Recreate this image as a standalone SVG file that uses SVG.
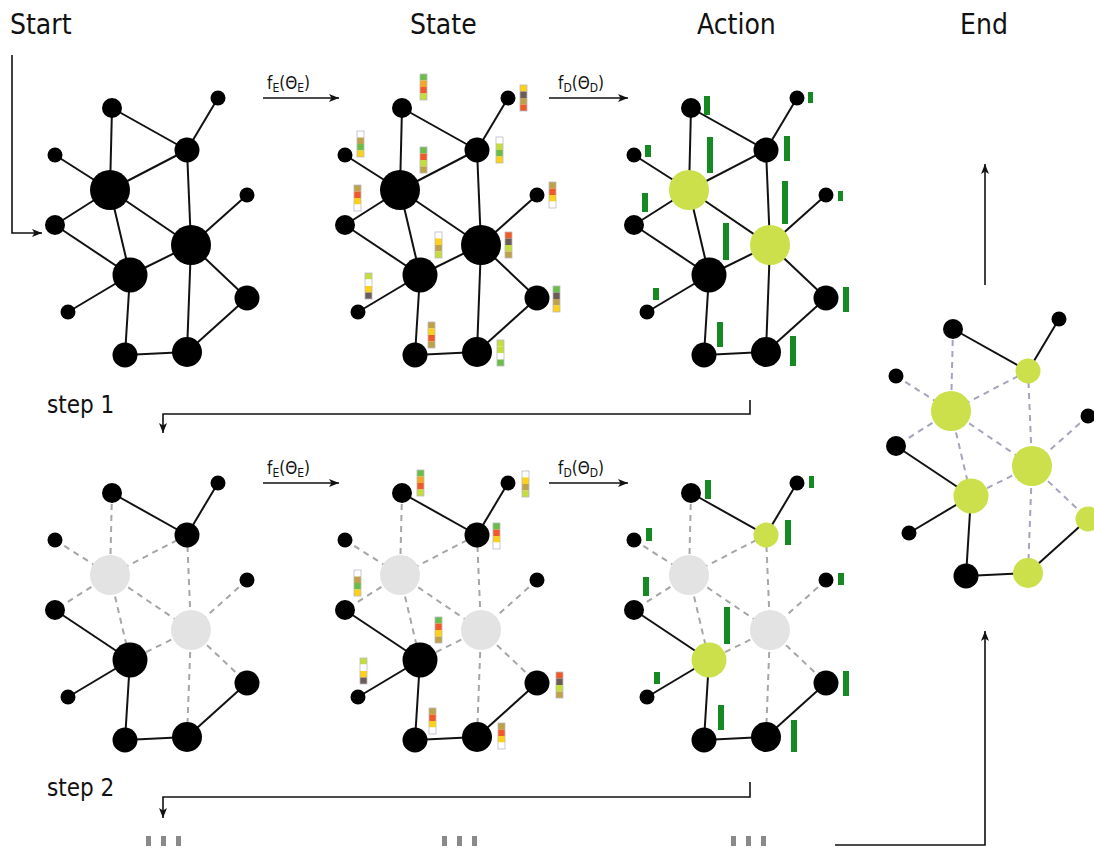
<svg xmlns="http://www.w3.org/2000/svg" xmlns:xlink="http://www.w3.org/1999/xlink" width="1094" height="848" viewBox="0 0 1094 848">
  <style>
    .title { font-family: "DejaVu Sans Condensed", "DejaVu Sans", sans-serif; font-stretch: condensed; font-size: 28px; fill: #111; }
    .step { font-family: "DejaVu Sans Condensed", "DejaVu Sans", sans-serif; font-stretch: condensed; font-size: 24px; fill: #111; }
    .fn { font-family: "DejaVu Sans Condensed", "DejaVu Sans", sans-serif; font-stretch: condensed; font-size: 17px; fill: #111; }
    .fn .sub { font-size: 12px; }
    .edge { stroke: #111; stroke-width: 2; fill: none; }
    .dash { stroke: #a6a6a6; stroke-width: 2; stroke-dasharray: 6 5; fill: none; }
    .dash-end { stroke: #a4a4bc; stroke-width: 2; stroke-dasharray: 6 5; fill: none; }
    .flow { stroke: #111; stroke-width: 1.6; fill: none; }
    .blk { fill: #000; }
    .act { fill: #cbe04a; }
    .off { fill: #e3e3e3; }
    .bar { fill: #168a22; }
    .frame { fill: none; stroke: #b8b8c8; stroke-width: 0.8; }
    .more { fill: #8a8a8a; }
    .cG { fill: #6cbd45; } .cR { fill: #ef5a27; } .cO { fill: #f5a623; } .cY { fill: #fcd116; }
    .cL { fill: #c5dc3d; } .cT { fill: #bfa247; } .cD { fill: #6b5c55; } .cW { fill: #ffffff; }
  </style>
  <defs>
    <marker id="arrow" viewBox="0 0 10 8" refX="10" refY="4" markerWidth="10" markerHeight="8" markerUnits="userSpaceOnUse" orient="auto">
      <path d="M0,0 L10,4 L0,8 L2.5,4 z" fill="#111"/>
    </marker>
  </defs>

  <rect width="1094" height="848" fill="#ffffff"/>

  <!-- column titles -->
  <text class="title" x="10" y="34">Start</text>
  <text class="title" x="410" y="34">State</text>
  <text class="title" x="697" y="34">Action</text>
  <text class="title" x="960" y="34">End</text>

  <!-- flow connectors between panels -->
  <g id="flow">
    <polyline class="flow" points="12,55 12,233 42,233" marker-end="url(#arrow)"/>
    <line class="flow" x1="263" y1="98" x2="339" y2="98" marker-end="url(#arrow)"/>
    <line class="flow" x1="549" y1="98" x2="628" y2="98" marker-end="url(#arrow)"/>
    <line class="flow" x1="263" y1="483" x2="339" y2="483" marker-end="url(#arrow)"/>
    <line class="flow" x1="549" y1="483" x2="628" y2="483" marker-end="url(#arrow)"/>
    <polyline class="flow" points="750,400 750,414 163,414 163,433" marker-end="url(#arrow)"/>
    <polyline class="flow" points="750,782 750,797 163,797 163,818" marker-end="url(#arrow)"/>
    <polyline class="flow" points="835,845 985,845 985,631" marker-end="url(#arrow)"/>
    <line class="flow" x1="985" y1="285" x2="985" y2="164" marker-end="url(#arrow)"/>
  </g>

  <!-- function labels -->
  <text class="fn" x="267" y="89">f<tspan class="sub" dy="3">E</tspan><tspan dy="-3">(Θ</tspan><tspan class="sub" dy="3">E</tspan><tspan dy="-3">)</tspan></text>
  <text class="fn" x="558" y="89">f<tspan class="sub" dy="3">D</tspan><tspan dy="-3">(Θ</tspan><tspan class="sub" dy="3">D</tspan><tspan dy="-3">)</tspan></text>
  <text class="fn" x="267" y="474">f<tspan class="sub" dy="3">E</tspan><tspan dy="-3">(Θ</tspan><tspan class="sub" dy="3">E</tspan><tspan dy="-3">)</tspan></text>
  <text class="fn" x="558" y="474">f<tspan class="sub" dy="3">D</tspan><tspan dy="-3">(Θ</tspan><tspan class="sub" dy="3">D</tspan><tspan dy="-3">)</tspan></text>

  <text class="step" x="47" y="413">step 1</text>
  <text class="step" x="47" y="796">step 2</text>

  <!-- continuation marks -->
  <g id="more">
    <rect class="more" x="146" y="836" width="5" height="10"/><rect class="more" x="161" y="836" width="5" height="10"/><rect class="more" x="176" y="836" width="5" height="10"/>
    <rect class="more" x="442" y="836" width="5" height="10"/><rect class="more" x="457" y="836" width="5" height="10"/><rect class="more" x="472" y="836" width="5" height="10"/>
    <rect class="more" x="731" y="836" width="5" height="10"/><rect class="more" x="746" y="836" width="5" height="10"/><rect class="more" x="761" y="836" width="5" height="10"/>
  </g>

  <!-- ===== step 1 : start graph ===== -->
  <g id="s1-start">
    <g id="s1-start-connectors">
      <line class="edge" x1="218" y1="98" x2="187" y2="150"/>
      <line class="edge" x1="112" y1="108" x2="187" y2="150"/>
      <line class="edge" x1="112" y1="108" x2="110" y2="190"/>
      <line class="edge" x1="187" y1="150" x2="110" y2="190"/>
      <line class="edge" x1="187" y1="150" x2="191" y2="245"/>
      <line class="edge" x1="55" y1="155" x2="110" y2="190"/>
      <line class="edge" x1="110" y1="190" x2="55" y2="225"/>
      <line class="edge" x1="110" y1="190" x2="130" y2="275"/>
      <line class="edge" x1="110" y1="190" x2="191" y2="245"/>
      <line class="edge" x1="247" y1="195" x2="191" y2="245"/>
      <line class="edge" x1="55" y1="225" x2="130" y2="275"/>
      <line class="edge" x1="191" y1="245" x2="130" y2="275"/>
      <line class="edge" x1="191" y1="245" x2="247" y2="298"/>
      <line class="edge" x1="191" y1="245" x2="187" y2="352"/>
      <line class="edge" x1="130" y1="275" x2="68" y2="312"/>
      <line class="edge" x1="130" y1="275" x2="125" y2="355"/>
      <line class="edge" x1="125" y1="355" x2="187" y2="352"/>
      <line class="edge" x1="187" y1="352" x2="247" y2="298"/>
    </g>
    <g id="s1-start-A"><circle class="blk" cx="218" cy="98" r="7.5"/></g>
    <g id="s1-start-B"><circle class="blk" cx="112" cy="108" r="10"/></g>
    <g id="s1-start-C"><circle class="blk" cx="187" cy="150" r="12.5"/></g>
    <g id="s1-start-D"><circle class="blk" cx="55" cy="155" r="7.5"/></g>
    <g id="s1-start-E"><circle class="blk" cx="110" cy="190" r="20"/></g>
    <g id="s1-start-F"><circle class="blk" cx="247" cy="195" r="7.5"/></g>
    <g id="s1-start-G"><circle class="blk" cx="55" cy="225" r="10"/></g>
    <g id="s1-start-H"><circle class="blk" cx="191" cy="245" r="20"/></g>
    <g id="s1-start-I"><circle class="blk" cx="130" cy="275" r="17.5"/></g>
    <g id="s1-start-J"><circle class="blk" cx="247" cy="298" r="12.5"/></g>
    <g id="s1-start-K"><circle class="blk" cx="68" cy="312" r="7.5"/></g>
    <g id="s1-start-L"><circle class="blk" cx="125" cy="355" r="12.5"/></g>
    <g id="s1-start-M"><circle class="blk" cx="187" cy="352" r="15"/></g>
  </g>

  <!-- ===== step 1 : state graph ===== -->
  <g id="s1-state" transform="translate(290,0)">
    <g id="s1-state-connectors">
      <line class="edge" x1="218" y1="98" x2="187" y2="150"/>
      <line class="edge" x1="112" y1="108" x2="187" y2="150"/>
      <line class="edge" x1="112" y1="108" x2="110" y2="190"/>
      <line class="edge" x1="187" y1="150" x2="110" y2="190"/>
      <line class="edge" x1="187" y1="150" x2="191" y2="245"/>
      <line class="edge" x1="55" y1="155" x2="110" y2="190"/>
      <line class="edge" x1="110" y1="190" x2="55" y2="225"/>
      <line class="edge" x1="110" y1="190" x2="130" y2="275"/>
      <line class="edge" x1="110" y1="190" x2="191" y2="245"/>
      <line class="edge" x1="247" y1="195" x2="191" y2="245"/>
      <line class="edge" x1="55" y1="225" x2="130" y2="275"/>
      <line class="edge" x1="191" y1="245" x2="130" y2="275"/>
      <line class="edge" x1="191" y1="245" x2="247" y2="298"/>
      <line class="edge" x1="191" y1="245" x2="187" y2="352"/>
      <line class="edge" x1="130" y1="275" x2="68" y2="312"/>
      <line class="edge" x1="130" y1="275" x2="125" y2="355"/>
      <line class="edge" x1="125" y1="355" x2="187" y2="352"/>
      <line class="edge" x1="187" y1="352" x2="247" y2="298"/>
    </g>
    <g id="s1-state-A"><circle class="blk" cx="218" cy="98" r="7.5"/></g>
    <g id="s1-state-B"><circle class="blk" cx="112" cy="108" r="10"/></g>
    <g id="s1-state-C"><circle class="blk" cx="187" cy="150" r="12.5"/></g>
    <g id="s1-state-D"><circle class="blk" cx="55" cy="155" r="7.5"/></g>
    <g id="s1-state-E"><circle class="blk" cx="110" cy="190" r="20"/></g>
    <g id="s1-state-F"><circle class="blk" cx="247" cy="195" r="7.5"/></g>
    <g id="s1-state-G"><circle class="blk" cx="55" cy="225" r="10"/></g>
    <g id="s1-state-H"><circle class="blk" cx="191" cy="245" r="20"/></g>
    <g id="s1-state-I"><circle class="blk" cx="130" cy="275" r="17.5"/></g>
    <g id="s1-state-J"><circle class="blk" cx="247" cy="298" r="12.5"/></g>
    <g id="s1-state-K"><circle class="blk" cx="68" cy="312" r="7.5"/></g>
    <g id="s1-state-L"><circle class="blk" cx="125" cy="355" r="12.5"/></g>
    <g id="s1-state-M"><circle class="blk" cx="187" cy="352" r="15"/></g>
    <!-- state vectors: 4 cells of 6.5 px -->
    <g id="s1-state-vectors">
      <g transform="translate(130,74)"><rect class="cG" width="7" height="6.5"/><rect class="cO" y="6.5" width="7" height="6.5"/><rect class="cR" y="13" width="7" height="6.5"/><rect class="cL" y="19.5" width="7" height="6.5"/><rect class="frame" width="7" height="26"/></g>
      <g transform="translate(230,85)"><rect class="cY" width="7" height="6.5"/><rect class="cD" y="6.5" width="7" height="6.5"/><rect class="cT" y="13" width="7" height="6.5"/><rect class="cR" y="19.5" width="7" height="6.5"/><rect class="frame" width="7" height="26"/></g>
      <g transform="translate(67,131)"><rect class="cW" width="7" height="6.5"/><rect class="cT" y="6.5" width="7" height="6.5"/><rect class="cG" y="13" width="7" height="6.5"/><rect class="cY" y="19.5" width="7" height="6.5"/><rect class="frame" width="7" height="26"/></g>
      <g transform="translate(130,147)"><rect class="cG" width="7" height="6.5"/><rect class="cR" y="6.5" width="7" height="6.5"/><rect class="cL" y="13" width="7" height="6.5"/><rect class="cT" y="19.5" width="7" height="6.5"/><rect class="frame" width="7" height="26"/></g>
      <g transform="translate(206,137)"><rect class="cW" width="7" height="6.5"/><rect class="cL" y="6.5" width="7" height="6.5"/><rect class="cG" y="13" width="7" height="6.5"/><rect class="cY" y="19.5" width="7" height="6.5"/><rect class="frame" width="7" height="26"/></g>
      <g transform="translate(64,185)"><rect class="cT" width="7" height="6.5"/><rect class="cR" y="6.5" width="7" height="6.5"/><rect class="cY" y="13" width="7" height="6.5"/><rect class="cW" y="19.5" width="7" height="6.5"/><rect class="frame" width="7" height="26"/></g>
      <g transform="translate(259,182)"><rect class="cT" width="7" height="6.5"/><rect class="cR" y="6.5" width="7" height="6.5"/><rect class="cY" y="13" width="7" height="6.5"/><rect class="cW" y="19.5" width="7" height="6.5"/><rect class="frame" width="7" height="26"/></g>
      <g transform="translate(145,232)"><rect class="cW" width="7" height="6.5"/><rect class="cY" y="6.5" width="7" height="6.5"/><rect class="cT" y="13" width="7" height="6.5"/><rect class="cL" y="19.5" width="7" height="6.5"/><rect class="frame" width="7" height="26"/></g>
      <g transform="translate(215,232)"><rect class="cR" width="7" height="6.5"/><rect class="cD" y="6.5" width="7" height="6.5"/><rect class="cL" y="13" width="7" height="6.5"/><rect class="cT" y="19.5" width="7" height="6.5"/><rect class="frame" width="7" height="26"/></g>
      <g transform="translate(75,273)"><rect class="cL" width="7" height="6.5"/><rect class="cW" y="6.5" width="7" height="6.5"/><rect class="cY" y="13" width="7" height="6.5"/><rect class="cD" y="19.5" width="7" height="6.5"/><rect class="frame" width="7" height="26"/></g>
      <g transform="translate(263,286)"><rect class="cG" width="7" height="6.5"/><rect class="cD" y="6.5" width="7" height="6.5"/><rect class="cT" y="13" width="7" height="6.5"/><rect class="cY" y="19.5" width="7" height="6.5"/><rect class="frame" width="7" height="26"/></g>
      <g transform="translate(138,322)"><rect class="cT" width="7" height="6.5"/><rect class="cY" y="6.5" width="7" height="6.5"/><rect class="cR" y="13" width="7" height="6.5"/><rect class="cT" y="19.5" width="7" height="6.5"/><rect class="frame" width="7" height="26"/></g>
      <g transform="translate(207,340)"><rect class="cL" width="7" height="6.5"/><rect class="cL" y="6.5" width="7" height="6.5"/><rect class="cW" y="13" width="7" height="6.5"/><rect class="cG" y="19.5" width="7" height="6.5"/><rect class="frame" width="7" height="26"/></g>
    </g>
  </g>

  <!-- ===== step 1 : action graph ===== -->
  <g id="s1-action" transform="translate(579,0)">
    <g id="s1-action-connectors">
      <line class="edge" x1="218" y1="98" x2="187" y2="150"/>
      <line class="edge" x1="112" y1="108" x2="187" y2="150"/>
      <line class="edge" x1="112" y1="108" x2="110" y2="190"/>
      <line class="edge" x1="187" y1="150" x2="110" y2="190"/>
      <line class="edge" x1="187" y1="150" x2="191" y2="245"/>
      <line class="edge" x1="55" y1="155" x2="110" y2="190"/>
      <line class="edge" x1="110" y1="190" x2="55" y2="225"/>
      <line class="edge" x1="110" y1="190" x2="130" y2="275"/>
      <line class="edge" x1="110" y1="190" x2="191" y2="245"/>
      <line class="edge" x1="247" y1="195" x2="191" y2="245"/>
      <line class="edge" x1="55" y1="225" x2="130" y2="275"/>
      <line class="edge" x1="191" y1="245" x2="130" y2="275"/>
      <line class="edge" x1="191" y1="245" x2="247" y2="298"/>
      <line class="edge" x1="191" y1="245" x2="187" y2="352"/>
      <line class="edge" x1="130" y1="275" x2="68" y2="312"/>
      <line class="edge" x1="130" y1="275" x2="125" y2="355"/>
      <line class="edge" x1="125" y1="355" x2="187" y2="352"/>
      <line class="edge" x1="187" y1="352" x2="247" y2="298"/>
    </g>
    <g id="s1-action-A"><circle class="blk" cx="218" cy="98" r="7.5"/></g>
    <g id="s1-action-B"><circle class="blk" cx="112" cy="108" r="10"/></g>
    <g id="s1-action-C"><circle class="blk" cx="187" cy="150" r="12.5"/></g>
    <g id="s1-action-D"><circle class="blk" cx="55" cy="155" r="7.5"/></g>
    <g id="s1-action-E"><circle class="act" cx="110" cy="190" r="20"/></g>
    <g id="s1-action-F"><circle class="blk" cx="247" cy="195" r="7.5"/></g>
    <g id="s1-action-G"><circle class="blk" cx="55" cy="225" r="10"/></g>
    <g id="s1-action-H"><circle class="act" cx="191" cy="245" r="20"/></g>
    <g id="s1-action-I"><circle class="blk" cx="130" cy="275" r="17.5"/></g>
    <g id="s1-action-J"><circle class="blk" cx="247" cy="298" r="12.5"/></g>
    <g id="s1-action-K"><circle class="blk" cx="68" cy="312" r="7.5"/></g>
    <g id="s1-action-L"><circle class="blk" cx="125" cy="355" r="12.5"/></g>
    <g id="s1-action-M"><circle class="blk" cx="187" cy="352" r="15"/></g>
    <g id="s1-action-scores">
      <rect class="bar" x="125" y="96" width="6" height="19"/>
      <rect class="bar" x="229" y="92" width="5" height="11"/>
      <rect class="bar" x="66" y="145" width="6" height="12"/>
      <rect class="bar" x="128" y="137" width="6" height="36"/>
      <rect class="bar" x="205" y="136" width="6" height="25"/>
      <rect class="bar" x="63" y="193" width="6" height="19"/>
      <rect class="bar" x="144" y="223" width="6" height="37"/>
      <rect class="bar" x="203" y="181" width="6" height="43"/>
      <rect class="bar" x="259" y="191" width="5" height="10"/>
      <rect class="bar" x="74" y="288" width="6" height="12"/>
      <rect class="bar" x="264" y="287" width="6" height="25"/>
      <rect class="bar" x="138" y="322" width="6" height="25"/>
      <rect class="bar" x="211" y="336" width="6" height="30"/>
    </g>
  </g>

  <!-- ===== step 2 : start graph ===== -->
  <g id="s2-start" transform="translate(0,385)">
    <g id="s2-start-connectors">
      <line class="edge" x1="218" y1="98" x2="187" y2="150"/>
      <line class="edge" x1="112" y1="108" x2="187" y2="150"/>
      <line class="dash" x1="112" y1="108" x2="110" y2="190"/>
      <line class="dash" x1="187" y1="150" x2="110" y2="190"/>
      <line class="dash" x1="187" y1="150" x2="191" y2="245"/>
      <line class="dash" x1="55" y1="155" x2="110" y2="190"/>
      <line class="dash" x1="110" y1="190" x2="55" y2="225"/>
      <line class="dash" x1="110" y1="190" x2="130" y2="275"/>
      <line class="dash" x1="110" y1="190" x2="191" y2="245"/>
      <line class="dash" x1="247" y1="195" x2="191" y2="245"/>
      <line class="edge" x1="55" y1="225" x2="130" y2="275"/>
      <line class="dash" x1="191" y1="245" x2="130" y2="275"/>
      <line class="dash" x1="191" y1="245" x2="247" y2="298"/>
      <line class="dash" x1="191" y1="245" x2="187" y2="352"/>
      <line class="edge" x1="130" y1="275" x2="68" y2="312"/>
      <line class="edge" x1="130" y1="275" x2="125" y2="355"/>
      <line class="edge" x1="125" y1="355" x2="187" y2="352"/>
      <line class="edge" x1="187" y1="352" x2="247" y2="298"/>
    </g>
    <g id="s2-start-A"><circle class="blk" cx="218" cy="98" r="7.5"/></g>
    <g id="s2-start-B"><circle class="blk" cx="112" cy="108" r="10"/></g>
    <g id="s2-start-C"><circle class="blk" cx="187" cy="150" r="12.5"/></g>
    <g id="s2-start-D"><circle class="blk" cx="55" cy="155" r="7.5"/></g>
    <g id="s2-start-E"><circle class="off" cx="110" cy="190" r="20"/></g>
    <g id="s2-start-F"><circle class="blk" cx="247" cy="195" r="7.5"/></g>
    <g id="s2-start-G"><circle class="blk" cx="55" cy="225" r="10"/></g>
    <g id="s2-start-H"><circle class="off" cx="191" cy="245" r="20"/></g>
    <g id="s2-start-I"><circle class="blk" cx="130" cy="275" r="17.5"/></g>
    <g id="s2-start-J"><circle class="blk" cx="247" cy="298" r="12.5"/></g>
    <g id="s2-start-K"><circle class="blk" cx="68" cy="312" r="7.5"/></g>
    <g id="s2-start-L"><circle class="blk" cx="125" cy="355" r="12.5"/></g>
    <g id="s2-start-M"><circle class="blk" cx="187" cy="352" r="15"/></g>
  </g>

  <!-- ===== step 2 : state graph ===== -->
  <g id="s2-state" transform="translate(290,385)">
    <g id="s2-state-connectors">
      <line class="edge" x1="218" y1="98" x2="187" y2="150"/>
      <line class="edge" x1="112" y1="108" x2="187" y2="150"/>
      <line class="dash" x1="112" y1="108" x2="110" y2="190"/>
      <line class="dash" x1="187" y1="150" x2="110" y2="190"/>
      <line class="dash" x1="187" y1="150" x2="191" y2="245"/>
      <line class="dash" x1="55" y1="155" x2="110" y2="190"/>
      <line class="dash" x1="110" y1="190" x2="55" y2="225"/>
      <line class="dash" x1="110" y1="190" x2="130" y2="275"/>
      <line class="dash" x1="110" y1="190" x2="191" y2="245"/>
      <line class="dash" x1="247" y1="195" x2="191" y2="245"/>
      <line class="edge" x1="55" y1="225" x2="130" y2="275"/>
      <line class="dash" x1="191" y1="245" x2="130" y2="275"/>
      <line class="dash" x1="191" y1="245" x2="247" y2="298"/>
      <line class="dash" x1="191" y1="245" x2="187" y2="352"/>
      <line class="edge" x1="130" y1="275" x2="68" y2="312"/>
      <line class="edge" x1="130" y1="275" x2="125" y2="355"/>
      <line class="edge" x1="125" y1="355" x2="187" y2="352"/>
      <line class="edge" x1="187" y1="352" x2="247" y2="298"/>
    </g>
    <g id="s2-state-A"><circle class="blk" cx="218" cy="98" r="7.5"/></g>
    <g id="s2-state-B"><circle class="blk" cx="112" cy="108" r="10"/></g>
    <g id="s2-state-C"><circle class="blk" cx="187" cy="150" r="12.5"/></g>
    <g id="s2-state-D"><circle class="blk" cx="55" cy="155" r="7.5"/></g>
    <g id="s2-state-E"><circle class="off" cx="110" cy="190" r="20"/></g>
    <g id="s2-state-F"><circle class="blk" cx="247" cy="195" r="7.5"/></g>
    <g id="s2-state-G"><circle class="blk" cx="55" cy="225" r="10"/></g>
    <g id="s2-state-H"><circle class="off" cx="191" cy="245" r="20"/></g>
    <g id="s2-state-I"><circle class="blk" cx="130" cy="275" r="17.5"/></g>
    <g id="s2-state-J"><circle class="blk" cx="247" cy="298" r="12.5"/></g>
    <g id="s2-state-K"><circle class="blk" cx="68" cy="312" r="7.5"/></g>
    <g id="s2-state-L"><circle class="blk" cx="125" cy="355" r="12.5"/></g>
    <g id="s2-state-M"><circle class="blk" cx="187" cy="352" r="15"/></g>
    <g id="s2-state-vectors">
      <g transform="translate(127,85)"><rect class="cG" width="7" height="6.5"/><rect class="cO" y="6.5" width="7" height="6.5"/><rect class="cR" y="13" width="7" height="6.5"/><rect class="cL" y="19.5" width="7" height="6.5"/><rect class="frame" width="7" height="26"/></g>
      <g transform="translate(232,86)"><rect class="cW" width="7" height="6.5"/><rect class="cY" y="6.5" width="7" height="6.5"/><rect class="cT" y="13" width="7" height="6.5"/><rect class="cL" y="19.5" width="7" height="6.5"/><rect class="frame" width="7" height="26"/></g>
      <g transform="translate(203,138)"><rect class="cG" width="7" height="6.5"/><rect class="cR" y="6.5" width="7" height="6.5"/><rect class="cY" y="13" width="7" height="6.5"/><rect class="cW" y="19.5" width="7" height="6.5"/><rect class="frame" width="7" height="26"/></g>
      <g transform="translate(64,185)"><rect class="cW" width="7" height="6.5"/><rect class="cT" y="6.5" width="7" height="6.5"/><rect class="cG" y="13" width="7" height="6.5"/><rect class="cY" y="19.5" width="7" height="6.5"/><rect class="frame" width="7" height="26"/></g>
      <g transform="translate(145,232)"><rect class="cG" width="7" height="6.5"/><rect class="cR" y="6.5" width="7" height="6.5"/><rect class="cY" y="13" width="7" height="6.5"/><rect class="cT" y="19.5" width="7" height="6.5"/><rect class="frame" width="7" height="26"/></g>
      <g transform="translate(70,273)"><rect class="cL" width="7" height="6.5"/><rect class="cW" y="6.5" width="7" height="6.5"/><rect class="cY" y="13" width="7" height="6.5"/><rect class="cD" y="19.5" width="7" height="6.5"/><rect class="frame" width="7" height="26"/></g>
      <g transform="translate(266,287)"><rect class="cR" width="7" height="6.5"/><rect class="cD" y="6.5" width="7" height="6.5"/><rect class="cL" y="13" width="7" height="6.5"/><rect class="cT" y="19.5" width="7" height="6.5"/><rect class="frame" width="7" height="26"/></g>
      <g transform="translate(139,323)"><rect class="cT" width="7" height="6.5"/><rect class="cR" y="6.5" width="7" height="6.5"/><rect class="cY" y="13" width="7" height="6.5"/><rect class="cW" y="19.5" width="7" height="6.5"/><rect class="frame" width="7" height="26"/></g>
      <g transform="translate(208,338)"><rect class="cT" width="7" height="6.5"/><rect class="cR" y="6.5" width="7" height="6.5"/><rect class="cY" y="13" width="7" height="6.5"/><rect class="cW" y="19.5" width="7" height="6.5"/><rect class="frame" width="7" height="26"/></g>
    </g>
  </g>

  <!-- ===== step 2 : action graph ===== -->
  <g id="s2-action" transform="translate(579,385)">
    <g id="s2-action-connectors">
      <line class="edge" x1="218" y1="98" x2="187" y2="150"/>
      <line class="edge" x1="112" y1="108" x2="187" y2="150"/>
      <line class="dash" x1="112" y1="108" x2="110" y2="190"/>
      <line class="dash" x1="187" y1="150" x2="110" y2="190"/>
      <line class="dash" x1="187" y1="150" x2="191" y2="245"/>
      <line class="dash" x1="55" y1="155" x2="110" y2="190"/>
      <line class="dash" x1="110" y1="190" x2="55" y2="225"/>
      <line class="dash" x1="110" y1="190" x2="130" y2="275"/>
      <line class="dash" x1="110" y1="190" x2="191" y2="245"/>
      <line class="dash" x1="247" y1="195" x2="191" y2="245"/>
      <line class="edge" x1="55" y1="225" x2="130" y2="275"/>
      <line class="dash" x1="191" y1="245" x2="130" y2="275"/>
      <line class="dash" x1="191" y1="245" x2="247" y2="298"/>
      <line class="dash" x1="191" y1="245" x2="187" y2="352"/>
      <line class="edge" x1="130" y1="275" x2="68" y2="312"/>
      <line class="edge" x1="130" y1="275" x2="125" y2="355"/>
      <line class="edge" x1="125" y1="355" x2="187" y2="352"/>
      <line class="edge" x1="187" y1="352" x2="247" y2="298"/>
    </g>
    <g id="s2-action-A"><circle class="blk" cx="218" cy="98" r="7.5"/></g>
    <g id="s2-action-B"><circle class="blk" cx="112" cy="108" r="10"/></g>
    <g id="s2-action-C"><circle class="act" cx="187" cy="150" r="12.5"/></g>
    <g id="s2-action-D"><circle class="blk" cx="55" cy="155" r="7.5"/></g>
    <g id="s2-action-E"><circle class="off" cx="110" cy="190" r="20"/></g>
    <g id="s2-action-F"><circle class="blk" cx="247" cy="195" r="7.5"/></g>
    <g id="s2-action-G"><circle class="blk" cx="55" cy="225" r="10"/></g>
    <g id="s2-action-H"><circle class="off" cx="191" cy="245" r="20"/></g>
    <g id="s2-action-I"><circle class="act" cx="130" cy="275" r="17.5"/></g>
    <g id="s2-action-J"><circle class="blk" cx="247" cy="298" r="12.5"/></g>
    <g id="s2-action-K"><circle class="blk" cx="68" cy="312" r="7.5"/></g>
    <g id="s2-action-L"><circle class="blk" cx="125" cy="355" r="12.5"/></g>
    <g id="s2-action-M"><circle class="blk" cx="187" cy="352" r="15"/></g>
    <g id="s2-action-scores">
      <rect class="bar" x="126" y="95" width="6" height="19"/>
      <rect class="bar" x="230" y="91" width="5" height="12"/>
      <rect class="bar" x="67" y="143" width="6" height="13"/>
      <rect class="bar" x="206" y="135" width="6" height="25"/>
      <rect class="bar" x="64" y="192" width="6" height="19"/>
      <rect class="bar" x="259" y="188" width="6" height="12"/>
      <rect class="bar" x="145" y="222" width="6" height="37"/>
      <rect class="bar" x="75" y="287" width="6" height="12"/>
      <rect class="bar" x="264" y="286" width="6" height="25"/>
      <rect class="bar" x="139" y="320" width="6" height="25"/>
      <rect class="bar" x="212" y="335" width="6" height="32"/>
    </g>
  </g>

  <!-- ===== final graph ===== -->
  <g id="end" transform="translate(841,221)">
    <g id="end-connectors">
      <line class="edge" x1="218" y1="98" x2="187" y2="150"/>
      <line class="edge" x1="112" y1="108" x2="187" y2="150"/>
      <line class="dash-end" x1="112" y1="108" x2="110" y2="190"/>
      <line class="dash-end" x1="187" y1="150" x2="110" y2="190"/>
      <line class="dash-end" x1="187" y1="150" x2="191" y2="245"/>
      <line class="dash-end" x1="55" y1="155" x2="110" y2="190"/>
      <line class="dash-end" x1="110" y1="190" x2="55" y2="225"/>
      <line class="dash-end" x1="110" y1="190" x2="130" y2="275"/>
      <line class="dash-end" x1="110" y1="190" x2="191" y2="245"/>
      <line class="dash-end" x1="247" y1="195" x2="191" y2="245"/>
      <line class="edge" x1="55" y1="225" x2="130" y2="275"/>
      <line class="dash-end" x1="191" y1="245" x2="130" y2="275"/>
      <line class="dash-end" x1="191" y1="245" x2="247" y2="298"/>
      <line class="dash-end" x1="191" y1="245" x2="187" y2="352"/>
      <line class="edge" x1="130" y1="275" x2="68" y2="312"/>
      <line class="edge" x1="130" y1="275" x2="125" y2="355"/>
      <line class="edge" x1="125" y1="355" x2="187" y2="352"/>
      <line class="edge" x1="187" y1="352" x2="247" y2="298"/>
    </g>
    <g id="end-A"><circle class="blk" cx="218" cy="98" r="7.5"/></g>
    <g id="end-B"><circle class="blk" cx="112" cy="108" r="10"/></g>
    <g id="end-C"><circle class="act" cx="187" cy="150" r="12.5"/></g>
    <g id="end-D"><circle class="blk" cx="55" cy="155" r="7.5"/></g>
    <g id="end-E"><circle class="act" cx="110" cy="190" r="20"/></g>
    <g id="end-F"><circle class="blk" cx="247" cy="195" r="7.5"/></g>
    <g id="end-G"><circle class="blk" cx="55" cy="225" r="10"/></g>
    <g id="end-H"><circle class="act" cx="191" cy="245" r="20"/></g>
    <g id="end-I"><circle class="act" cx="130" cy="275" r="17.5"/></g>
    <g id="end-J"><circle class="act" cx="247" cy="298" r="12.5"/></g>
    <g id="end-K"><circle class="blk" cx="68" cy="312" r="7.5"/></g>
    <g id="end-L"><circle class="blk" cx="125" cy="355" r="12.5"/></g>
    <g id="end-M"><circle class="act" cx="187" cy="352" r="15"/></g>
  </g>
</svg>
